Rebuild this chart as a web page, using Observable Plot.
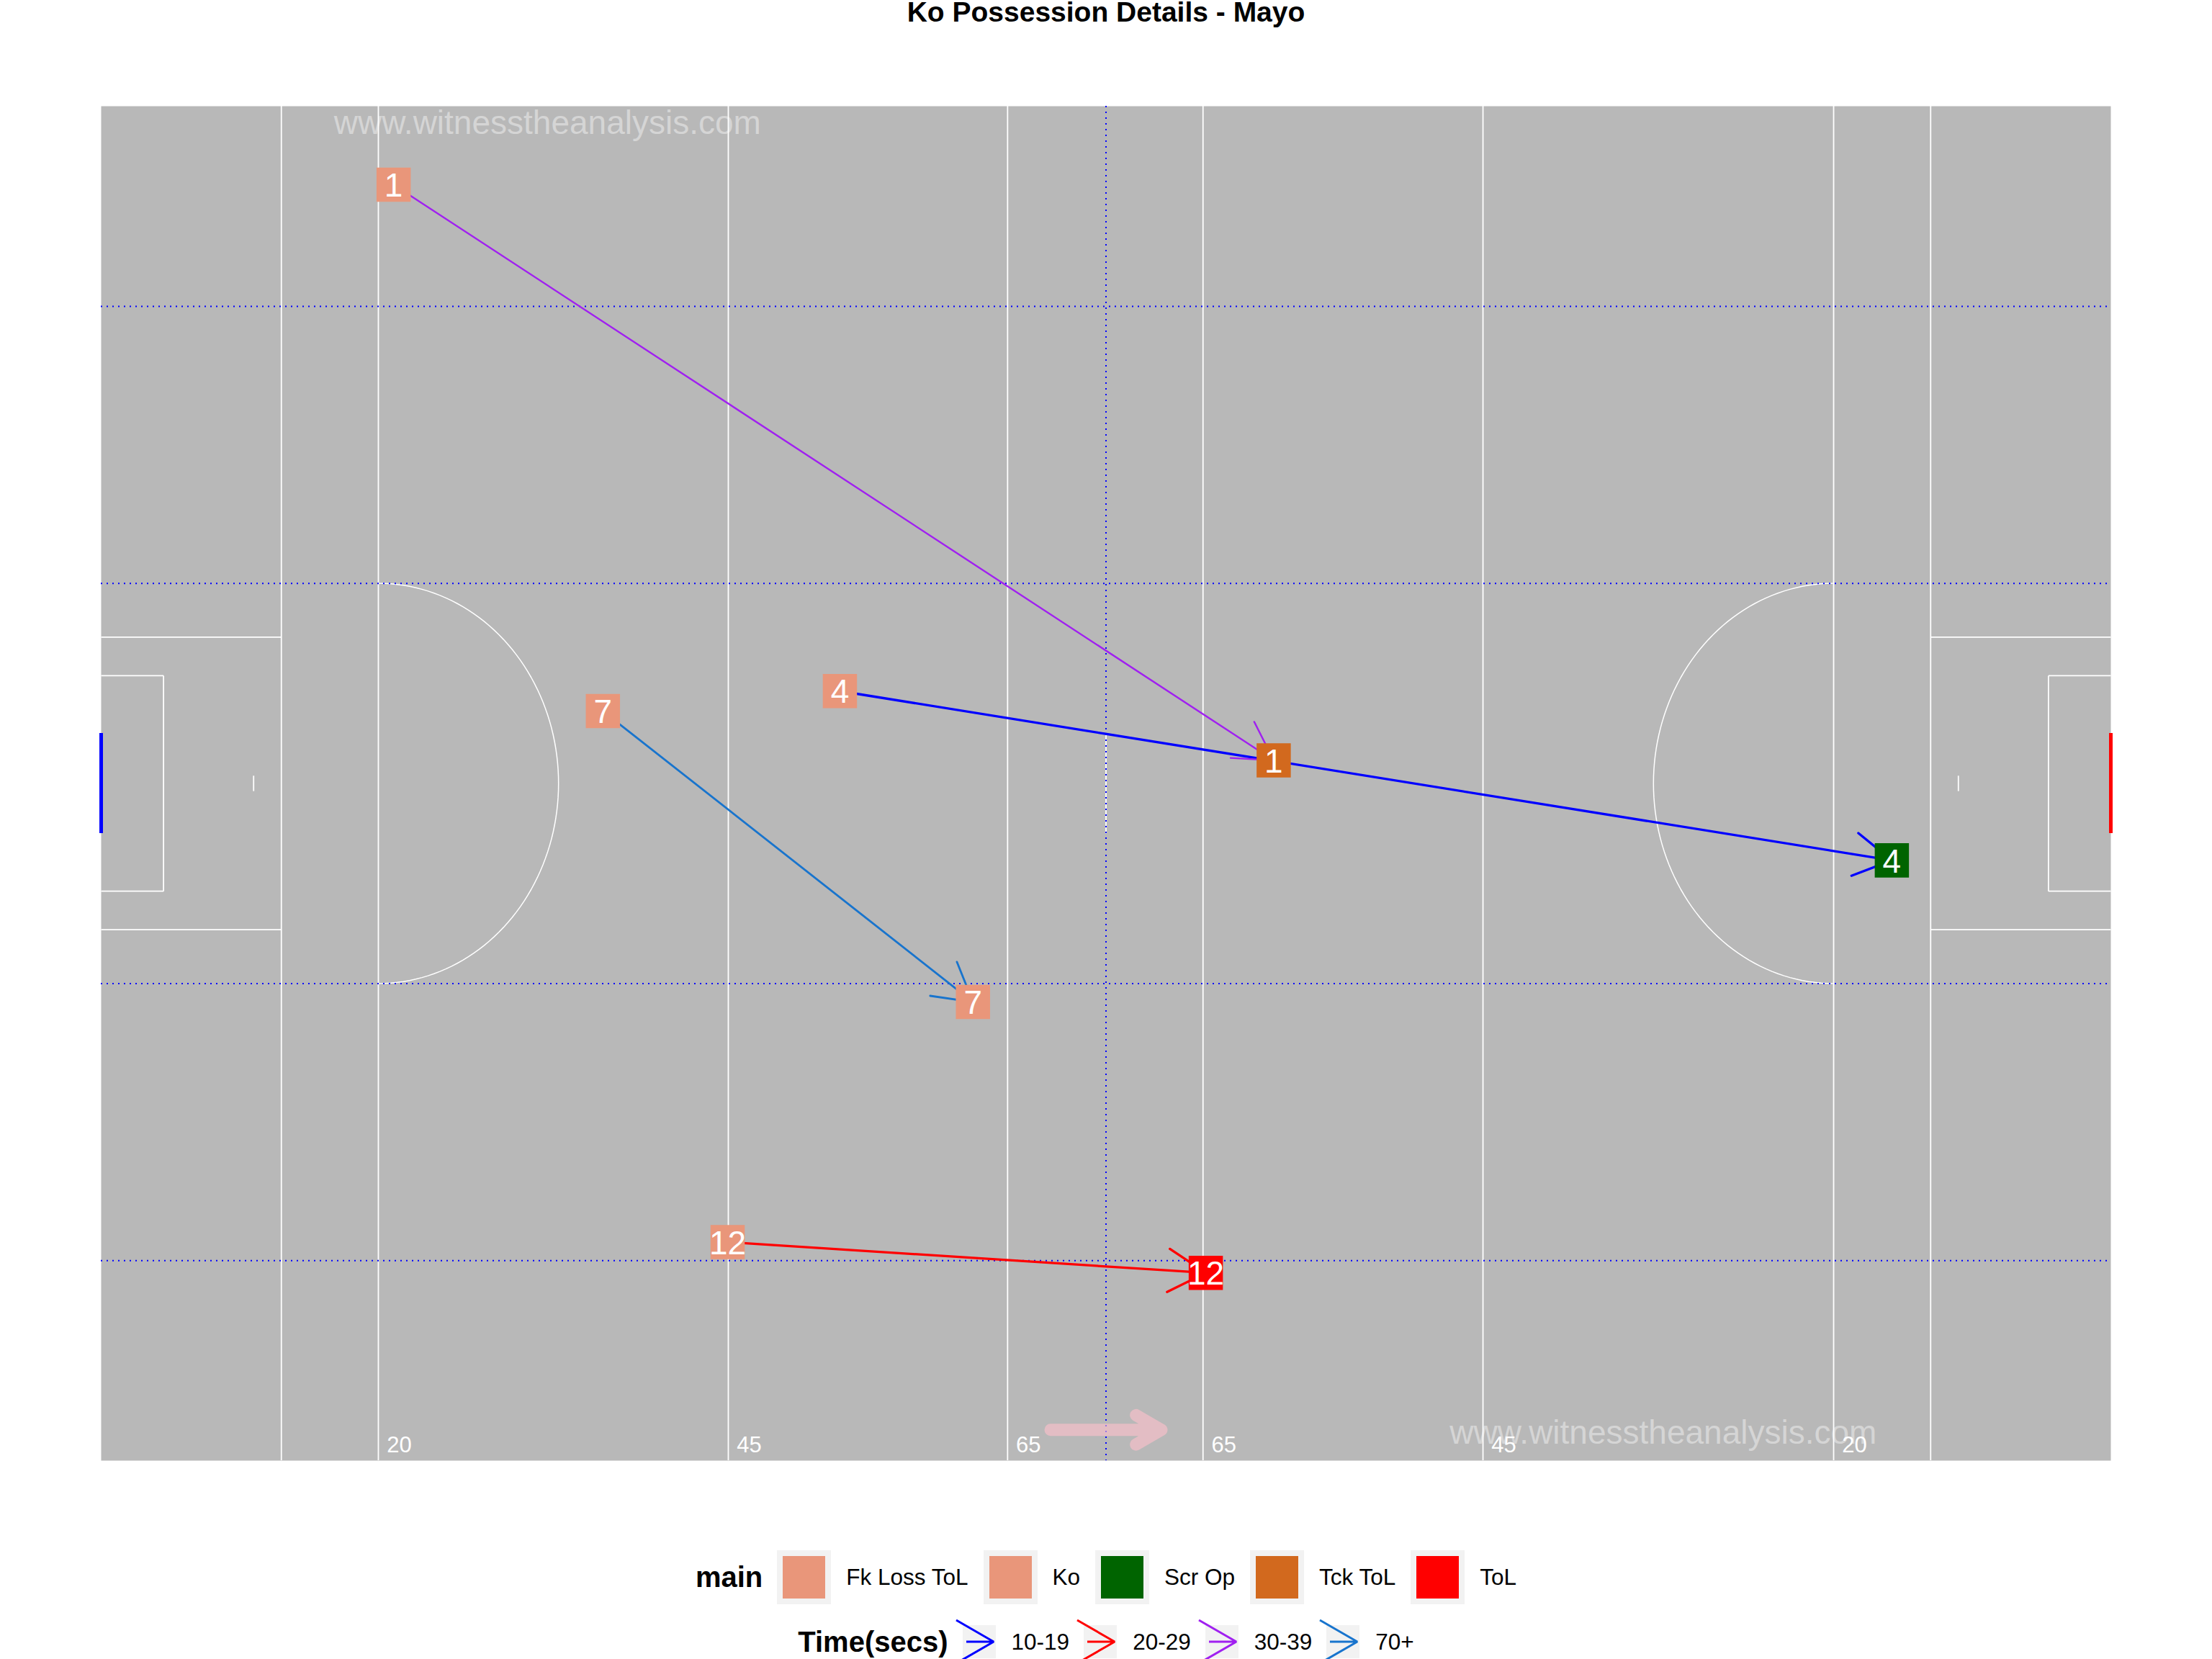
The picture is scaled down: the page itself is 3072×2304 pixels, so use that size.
<!DOCTYPE html>
<html><head><meta charset="utf-8">
<script src="https://cdn.jsdelivr.net/npm/d3@7"></script>
<script src="https://cdn.jsdelivr.net/npm/@observablehq/plot@0.6"></script>
<style>
html,body{margin:0;padding:0;background:#fff;overflow:hidden;width:3072px;height:2304px;}
body{font-family:"Liberation Sans", Arial, sans-serif;position:relative;}
#title{height:33px;line-height:33px;font-size:39px;font-weight:bold;text-align:center;white-space:nowrap;color:#000;}
.lrow{position:absolute;left:0;width:3072px;display:flex;justify-content:center;align-items:center;}
.lname{font-weight:bold;font-size:40px;color:#000;white-space:nowrap;}
.llab{font-size:31.5px;color:#000;white-space:nowrap;}
.lrow svg{overflow:visible;display:block;flex:none;}
</style></head><body>
<div id="title">Ko Possession Details - Mayo</div>
<div id="chart"></div>
<div class="lrow" id="leg1" style="top:2153px;height:75px;"></div>
<div class="lrow" id="leg2" style="top:2257px;height:46px;"></div>
<script>
// ---- data (pitch metres, origin bottom-left) ----
const possession = [1, 4, 7, 12];
const startX = [21.1, 53.3, 36.2, 45.2];
const startY = [82.9, 50.0, 48.7, 14.2];
const endX = [84.6, 129.2, 62.9, 79.7];
const endY = [45.5, 39.0, 29.8, 12.2];
const startEvent = ["Ko", "Ko", "Ko", "Ko"];
const endEvent = ["Tck ToL", "Scr Op", "Fk Loss ToL", "ToL"];
const timeBand = ["30-39", "10-19", "70+", "20-29"];

const mainCats = ["Fk Loss ToL", "Ko", "Scr Op", "Tck ToL", "ToL"];
const mainColors = ["#E9967A", "#E9967A", "#006400", "#D2691E", "#FF0000"];
const timeCats = ["10-19", "20-29", "30-39", "70+"];
const timeColors = ["#0000FF", "#FF0000", "#A020F0", "#1874CD"];

const pitchLength = 145, pitchWidth = 88;
const pitchLinesX = [13, 20, 45.25, 65.4, 79.5, 99.7, 125, 132];
const distLabelX = [20, 45.25, 65.4, 79.5, 99.7, 125];
const distLabels = ["20", "45", "65", "65", "45", "20"];
const zoneLinesY = [13, 31, 57, 75];
const halfwayX = [72.5];
const watermarkX = [32.2, 112.7];
const watermarkY = [86.9, 1.8];
const watermarkText = "www.witnesstheanalysis.com";
const attackX1 = [68.5], attackX2 = [76.5], attackY = [2];

// ---- derived tables ----
const possessions = possession.map((n, i) => ({
  num: n, sx: startX[i], sy: startY[i], ex: endX[i], ey: endY[i],
  start: startEvent[i], end: endEvent[i], time: timeBand[i]
}));
const mid = pitchWidth / 2;
const L = pitchLength;
const pitchSegs = [
  {x1: 0, y1: mid - 9.5, x2: 13, y2: mid - 9.5}, {x1: 0, y1: mid + 9.5, x2: 13, y2: mid + 9.5},
  {x1: L - 13, y1: mid - 9.5, x2: L, y2: mid - 9.5}, {x1: L - 13, y1: mid + 9.5, x2: L, y2: mid + 9.5},
  {x1: 0, y1: mid - 7, x2: 4.5, y2: mid - 7}, {x1: 0, y1: mid + 7, x2: 4.5, y2: mid + 7},
  {x1: 4.5, y1: mid - 7, x2: 4.5, y2: mid + 7},
  {x1: L - 4.5, y1: mid - 7, x2: L, y2: mid - 7}, {x1: L - 4.5, y1: mid + 7, x2: L, y2: mid + 7},
  {x1: L - 4.5, y1: mid - 7, x2: L - 4.5, y2: mid + 7},
  {x1: 11, y1: mid - 0.5, x2: 11, y2: mid + 0.5}, {x1: L - 11, y1: mid - 0.5, x2: L - 11, y2: mid + 0.5},
  {x1: L / 2, y1: mid - 3.25, x2: L / 2, y2: mid + 3.25}
];
const angles = d3.range(-90, 90.01, 2).map(a => a * Math.PI / 180);
const arcL = angles.map(a => ({x: 20 + 13 * Math.cos(a), y: mid + 13 * Math.sin(a)}));
const arcR = angles.map(a => ({x: L - 20 - 13 * Math.cos(a), y: mid + 13 * Math.sin(a)}));
const distTable = distLabelX.map((x, i) => ({x, y: 1, t: distLabels[i]}));
const wmTable = watermarkX.map((x, i) => ({x, y: watermarkY[i]}));
const attackTable = attackX1.map((x1, i) => ({x1, x2: attackX2[i], y: attackY[i]}));
const goalTable = [{x: 0, y1: mid - 3.25, y2: mid + 3.25}, {x: L, y1: mid - 3.25, y2: mid + 3.25}];

const sw = {"10-19": 3.3, "20-29": 3.3, "30-39": 2.4, "70+": 2.8};

const chart = Plot.plot({
  width: 3072, height: 114 + 1881 + 10,
  marginLeft: 140, marginRight: 141, marginTop: 114, marginBottom: 10,
  style: {fontFamily: "Liberation Sans, Arial, sans-serif", background: "white"},
  x: {domain: [0, pitchLength], axis: null},
  y: {domain: [0, pitchWidth], axis: null},
  color: {type: "ordinal", domain: [...mainCats, ...timeCats], range: [...mainColors, ...timeColors]},
  marks: [
    Plot.frame({fill: "#B8B8B8", stroke: "none"}),
    Plot.text(wmTable, {x: "x", y: "y", text: () => watermarkText, fontSize: 46, fill: "#D5D5D5"}),
    Plot.ruleX(pitchLinesX, {stroke: "white", strokeWidth: 1.8}),
    Plot.link(pitchSegs, {x1: "x1", y1: "y1", x2: "x2", y2: "y2", stroke: "white", strokeWidth: 1.8}),
    Plot.line(arcL, {x: "x", y: "y", stroke: "white", strokeWidth: 1.5}),
    Plot.line(arcR, {x: "x", y: "y", stroke: "white", strokeWidth: 1.5}),
    Plot.ruleY(zoneLinesY, {stroke: "#0000FF", strokeWidth: 2, strokeDasharray: "2,6"}),
    Plot.ruleX(halfwayX, {stroke: "#0000FF", strokeWidth: 2, strokeDasharray: "2,6"}),
    Plot.ruleX(goalTable.slice(0, 1), {x: "x", y1: "y1", y2: "y2", stroke: "#0000FF", strokeWidth: 5}),
    Plot.ruleX(goalTable.slice(1), {x: "x", y1: "y1", y2: "y2", stroke: "#FF0000", strokeWidth: 5}),
    Plot.text(distTable, {x: "x", y: "y", text: "t", dx: 29, fill: "white", fontSize: 31}),
    Plot.arrow(attackTable, {x1: "x1", x2: "x2", y1: "y", y2: "y", stroke: "pink", strokeOpacity: 0.6,
      strokeWidth: 17, headLength: 3.6, headAngle: 60, strokeLinejoin: "round"}),
    ...timeCats.map(t => Plot.arrow(possessions.filter(d => d.time === t), {
      x1: "sx", y1: "sy", x2: "ex", y2: "ey", stroke: "time",
      strokeWidth: sw[t], headLength: 60 * 1.5 / sw[t], headAngle: 60
    })),
    Plot.dot(possessions, {x: "sx", y: "sy", fill: "start", symbol: "square", r: 26.8}),
    Plot.text(possessions, {x: "sx", y: "sy", text: d => String(d.num), fill: "white", fontSize: 46, dy: 2}),
    Plot.dot(possessions, {x: "ex", y: "ey", fill: "end", symbol: "square", r: 26.8}),
    Plot.text(possessions, {x: "ex", y: "ey", text: d => String(d.num), fill: "white", fontSize: 46, dy: 2})
  ]
});
document.getElementById("chart").appendChild(chart);

// ---- legends ----
const color = chart.scale("color");
const leg1 = d3.select("#leg1");
leg1.append("span").attr("class", "lname").style("margin-right", "20px").text("main");
mainCats.forEach((c, i) => {
  const s = leg1.append("svg").attr("width", 75).attr("height", 75).style("margin-right", "21px");
  s.append("rect").attr("width", 75).attr("height", 75).attr("fill", "#F2F2F2");
  s.append("rect").attr("x", 8).attr("y", 8).attr("width", 59).attr("height", 59).attr("fill", color.apply(c));
  leg1.append("span").attr("class", "llab").style("margin-right", i < mainCats.length - 1 ? "21px" : "0px").text(c);
});
const leg2 = d3.select("#leg2");
leg2.append("span").attr("class", "lname").style("margin-right", "20px").text("Time(secs)");
timeCats.forEach((c, i) => {
  const s = leg2.append("svg").attr("width", 46).attr("height", 46).style("margin-right", "22px");
  s.append("rect").attr("width", 46).attr("height", 46).attr("fill", "#F2F2F2");
  const col = color.apply(c);
  s.append("path").attr("d", "M5,23L43,23M-9,-7L43,23L-9,53")
    .attr("fill", "none").attr("stroke", col).attr("stroke-width", 3).attr("stroke-miterlimit", 1);
  leg2.append("span").attr("class", "llab").style("margin-right", i < timeCats.length - 1 ? "20px" : "0px").text(c);
});
</script></body></html>
